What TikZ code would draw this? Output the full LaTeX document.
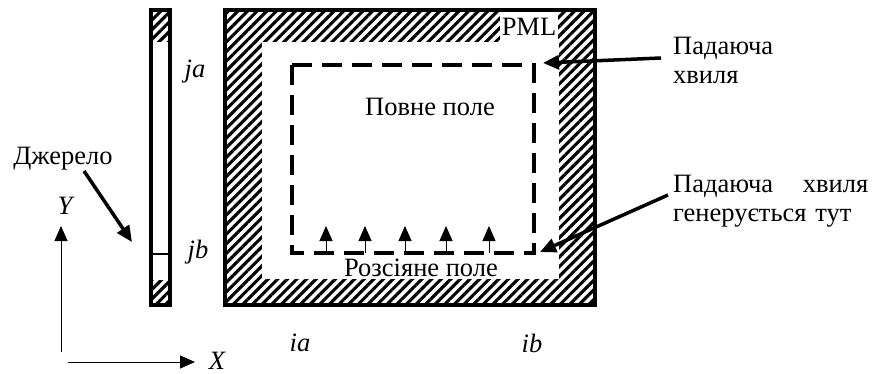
\documentclass[tikz,border=0pt]{standalone}
\usepackage{fontspec}
\setmainfont{Liberation Serif}
\usetikzlibrary{patterns.meta,arrows.meta}
\begin{document}
\begin{tikzpicture}[x=1pt,y=-1pt,
  hatch/.style={pattern={Lines[angle=45,distance=6.8pt,line width=3.1pt]}},
  txt/.style={inner sep=0pt,font=\fontsize{26.5}{29}\selectfont},
  lbl/.style={inner sep=0pt,font=\fontsize{26.5}{29}\selectfont\itshape},
  callout/.style={line width=3.5pt,-{Triangle[length=16pt,width=14pt]}},
  thinarrow/.style={line width=1pt,-{Triangle[length=15pt,width=13pt]}},
  frame/.style={line width=4pt},
]
\useasboundingbox (0,0) rectangle (874,374);
% source strip
\fill[hatch] (151,10) rectangle (170,42);
\fill[hatch] (151,280) rectangle (170,305);
\draw[line width=2.5pt] (151,254) -- (170,254);
\draw[frame] (151,10) rectangle (170,305);
% computational domain
\fill[hatch] (225,10) rectangle (595,305);
\fill[white] (262,42) rectangle (559,279);
\node[txt, fill=white, minimum width=58pt, minimum height=30pt] (pml) at (529,27) {PML};
\draw[frame] (225,10) rectangle (595,305);
% total field boundary
\draw[line width=3.5pt, dash pattern=on 20pt off 10pt] (292,65) rectangle (534,253);
\foreach \x [count=\i] in {326,365,405,446,489} {
  \coordinate (b\i) at (\x,253);
  \coordinate (t\i) at (\x,226);
  \draw[thinarrow] (b\i) -- (t\i);
}
\node[txt] (full) at (430,107) {Повне поле};
\node[txt] (scat) at (421,268) {Розсіяне поле};
% index labels
\node[lbl] (ja) at (195,72) {ja};
\node[lbl] (jb) at (198,252) {jb};
\node[lbl] (ia) at (300,343) {ia};
\node[lbl] (ib) at (532,343) {ib};
% axes
\coordinate (o1) at (61,352);
\coordinate (ytip) at (61,226);
\draw[thinarrow] (o1) -- (ytip);
\coordinate (o2) at (68,362);
\coordinate (xtip) at (195,362);
\draw[thinarrow] (o2) -- (xtip);
\node[lbl] (xl) at (217,361) {X};
\node[lbl] (yl) at (65,206) {Y};
% source label
\node[txt] (src) at (63,159) {Джерело};
\coordinate (s1) at (84,171);
\coordinate (s2) at (132,242);
\draw[callout] (s1) -- (s2);
% right annotations
\node[txt, anchor=west, align=left] (inc) at (673,60) {Падаюча\\хвиля};
\node[txt, anchor=west, text width=195pt, align=left] (gen) at (673,201) {Падаюча\hfill хвиля\\генерується тут};
\coordinate (c1) at (661,58);
\coordinate (c1t) at (543,63);
\draw[callout] (c1) -- (c1t);
\coordinate (c2) at (668,195);
\coordinate (c2t) at (540,252);
\draw[callout] (c2) -- (c2t);
\end{tikzpicture}
\end{document}
